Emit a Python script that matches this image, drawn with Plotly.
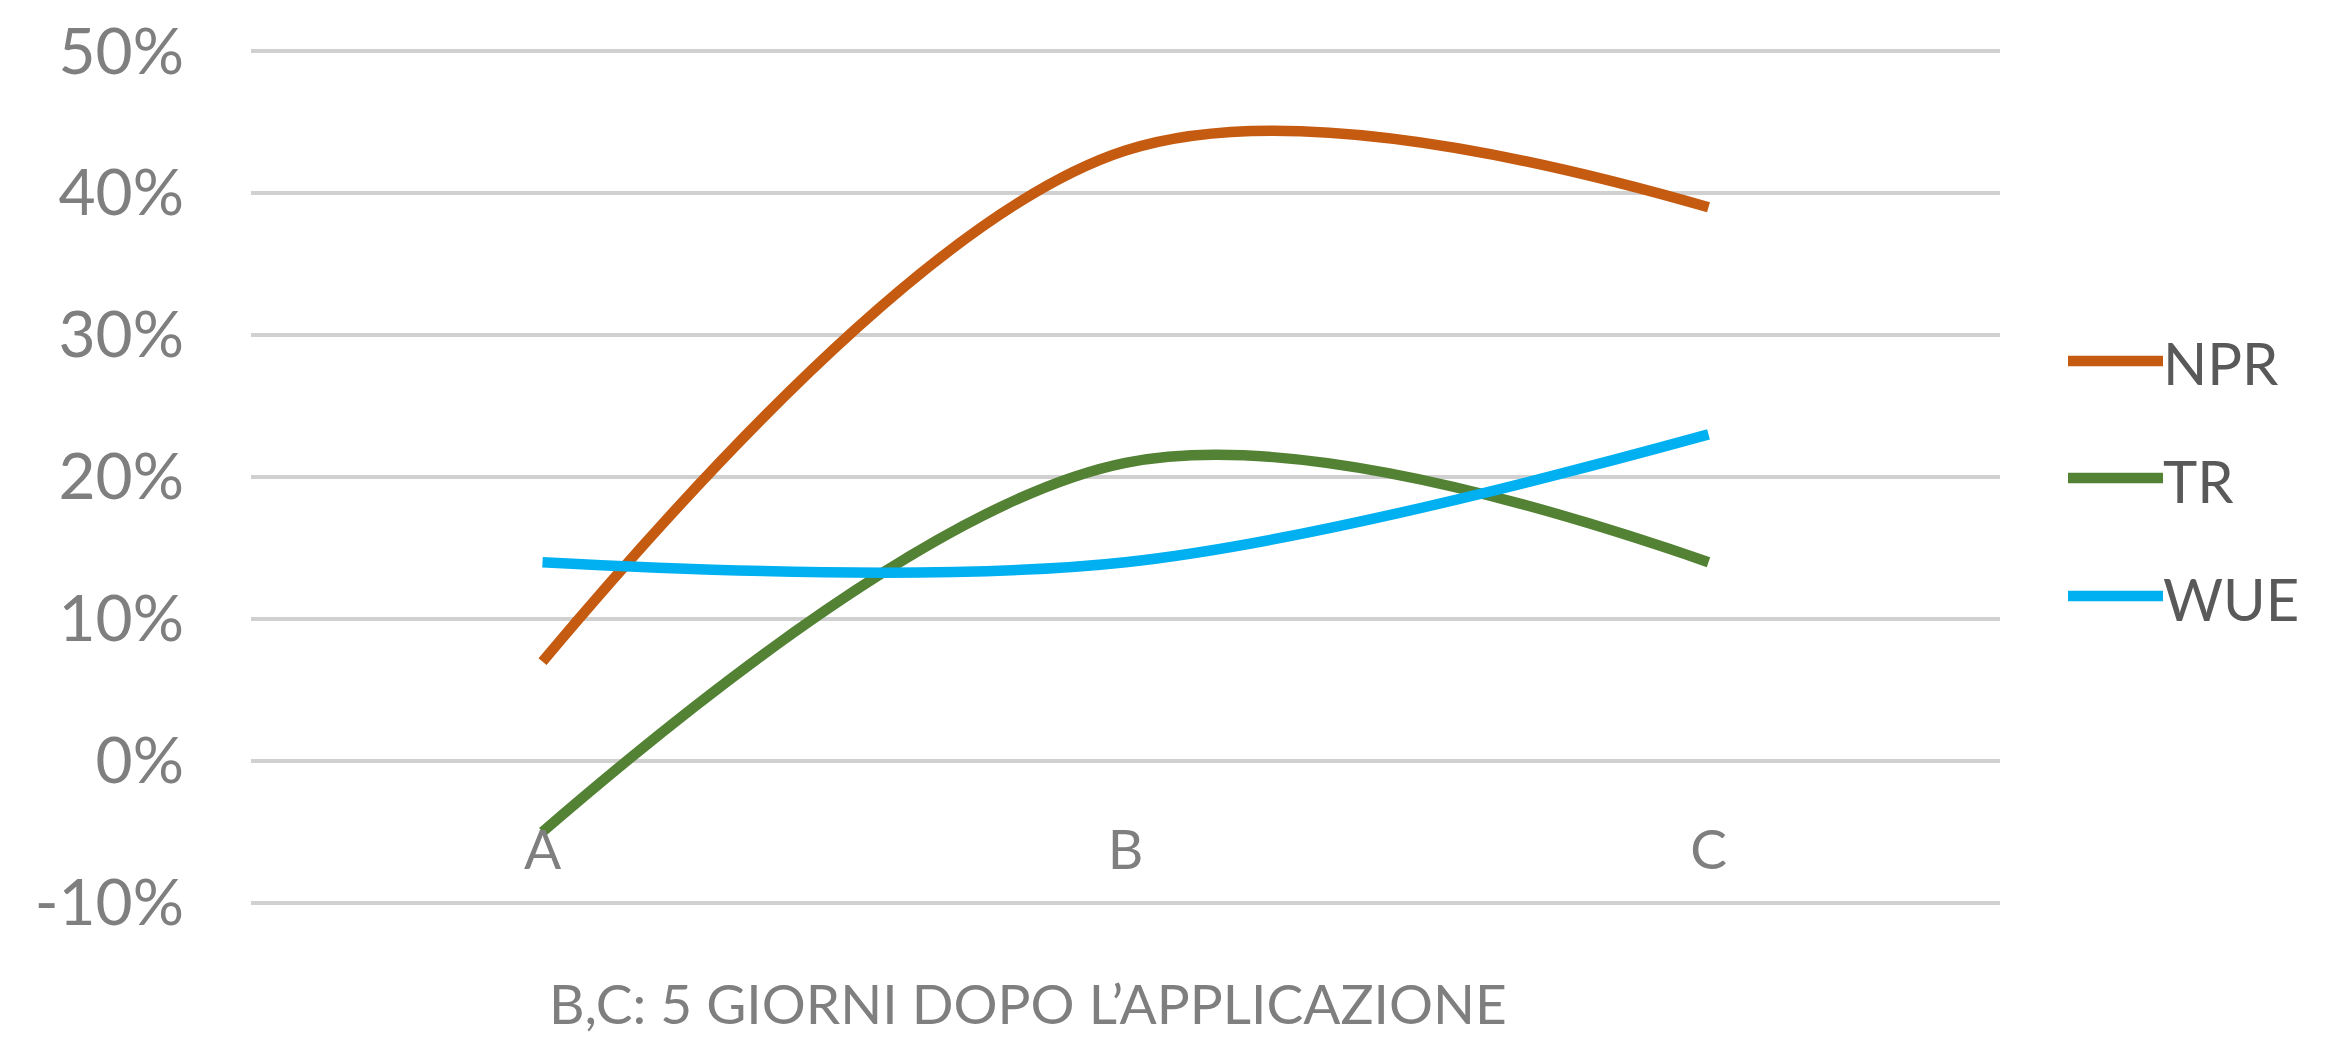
import plotly.graph_objects as go

categories = ["A", "B", "C"]
npr = [0.07, 0.43, 0.39]
tr = [-0.05, 0.21, 0.14]
wue = [0.14, 0.14, 0.23]
series_names = ["NPR", "TR", "WUE"]
series_colors = ["#C55A11", "#548235", "#00B0F0"]
y_ticks = [-0.1, 0.0, 0.1, 0.2, 0.3, 0.4, 0.5]
y_tick_labels = ["-10%", "0%", "10%", "20%", "30%", "40%", "50%"]
x_title = "B,C: 5 GIORNI DOPO L\u2019APPLICAZIONE"

OFF = 8  # default page body margin
W, H = 2330 - OFF, 1040 - OFF
L, R, T, B = 251 - OFF, 330, 49 - OFF, 135
FONT = "Lato"
pad = 0.0015

fig = go.Figure()
for name, vals, col in zip(series_names, [npr, tr, wue], series_colors):
    fig.add_trace(go.Scatter(
        x=categories, y=vals, name=name, mode="lines",
        line=dict(color=col, width=10.5, shape="spline", smoothing=1.0),
        showlegend=False,
    ))

pw = W - L - R
ph = H - T - B
def px_to_paper_x(px):
    return (px - OFF - L) / pw
def px_to_paper_y(py):
    return (H - B - (py - OFF)) / ph

leg_y = [361, 478, 596]
for name, col, yy in zip(series_names, series_colors, leg_y):
    fig.add_shape(type="line", xref="paper", yref="paper",
                  x0=px_to_paper_x(2068), x1=px_to_paper_x(2163),
                  y0=px_to_paper_y(yy), y1=px_to_paper_y(yy),
                  line=dict(color=col, width=10.5))
    fig.add_annotation(xref="paper", yref="paper",
                       x=px_to_paper_x(2161), y=px_to_paper_y(yy + 2),
                       text=name, showarrow=False, xanchor="left", yanchor="middle",
                       font=dict(family=FONT, size=58, color="#595959"))

fig.add_annotation(xref="paper", yref="paper",
                   x=px_to_paper_x(1028), y=px_to_paper_y(1003),
                   text=x_title, showarrow=False, xanchor="center", yanchor="middle",
                   font=dict(family=FONT, size=55, color="#7F7F7F"))

fig.update_layout(
    width=W, height=H,
    margin=dict(l=L, r=R, t=T, b=B, pad=0),
    paper_bgcolor="white", plot_bgcolor="white",
    xaxis=dict(
        range=[-0.5, 2.5], showgrid=False, zeroline=False, showline=False,
        anchor="free", position=(0 - y_ticks[0] + pad) / (y_ticks[-1] - y_ticks[0] + 2 * pad),
        ticks="", ticklabelstandoff=52, automargin=False,
        tickfont=dict(family=FONT, size=55, color="#7F7F7F"),
    ),
    yaxis=dict(
        range=[y_ticks[0] - pad, y_ticks[-1] + pad], tickvals=y_ticks, ticktext=y_tick_labels,
        showgrid=True, gridcolor="#D0D0D0", gridwidth=3.5, automargin=False,
        zeroline=False, showline=False, ticks="", ticklabelstandoff=66,
        tickfont=dict(family=FONT, size=64, color="#7F7F7F"),
    ),
)

fig.write_html("out.html")
